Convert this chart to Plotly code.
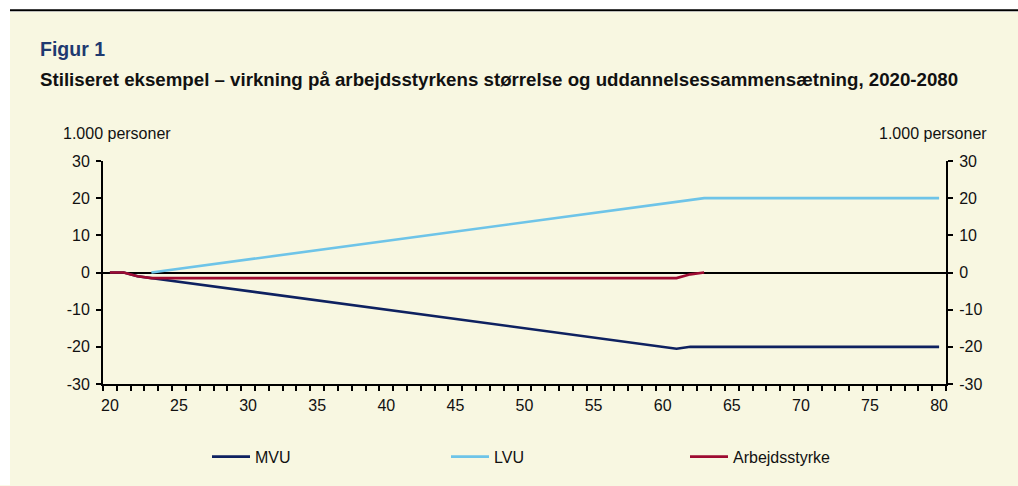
import plotly.graph_objects as go

# ---- data ----
years = list(range(20, 81))

mvu = [0, 0, -1, -1.5, -2, -2.5, -3, -3.5, -4, -4.5,
       -5, -5.5, -6, -6.5, -7, -7.5, -8, -8.5, -9, -9.5,
       -10, -10.5, -11, -11.5, -12, -12.5, -13, -13.5, -14, -14.5,
       -15, -15.5, -16, -16.5, -17, -17.5, -18, -18.5, -19, -19.5,
       -20, -20.5, -20, -20, -20, -20, -20, -20, -20, -20,
       -20, -20, -20, -20, -20, -20, -20, -20, -20, -20,
       -20]

lvu = [None, None, None, 0, 0.5, 1, 1.5, 2, 2.5, 3,
       3.5, 4, 4.5, 5, 5.5, 6, 6.5, 7, 7.5, 8,
       8.5, 9, 9.5, 10, 10.5, 11, 11.5, 12, 12.5, 13,
       13.5, 14, 14.5, 15, 15.5, 16, 16.5, 17, 17.5, 18,
       18.5, 19, 19.5, 20, 20, 20, 20, 20, 20, 20,
       20, 20, 20, 20, 20, 20, 20, 20, 20, 20,
       20]

arbejdsstyrke = [0, 0, -1, -1.5, -1.5, -1.5, -1.5, -1.5, -1.5, -1.5,
                 -1.5, -1.5, -1.5, -1.5, -1.5, -1.5, -1.5, -1.5, -1.5, -1.5,
                 -1.5, -1.5, -1.5, -1.5, -1.5, -1.5, -1.5, -1.5, -1.5, -1.5,
                 -1.5, -1.5, -1.5, -1.5, -1.5, -1.5, -1.5, -1.5, -1.5, -1.5,
                 -1.5, -1.5, -0.5, 0, None, None, None, None, None, None,
                 None, None, None, None, None, None, None, None, None, None,
                 None]

x_ticks = [20, 25, 30, 35, 40, 45, 50, 55, 60, 65, 70, 75, 80]
y_ticks = [-30, -20, -10, 0, 10, 20, 30]
y_ticktext = ["-30", "-20", "-10", "0", "10", "20", "30"]

title_txt = "Figur 1"
subtitle_txt = "Stiliseret eksempel – virkning på arbejdsstyrkens størrelse og uddannelsessammensætning, 2020-2080"
unit_txt = "1.000 personer"

# ---- layout geometry (pixels) ----
W, H = 1018, 486
L, R, T, B = 103, 946, 161, 388
BG = "#F8F7E1"
FONT = "Liberation Sans, Arial, sans-serif"


def px(x):
    return (x - L) / (R - L)


def py(y):
    return (B - y) / (B - T)


fig = go.Figure()
fig.add_trace(go.Scatter(x=years, y=mvu, name="MVU", mode="lines",
                         line=dict(color="#0E2160", width=2.6)))
fig.add_trace(go.Scatter(x=years, y=lvu, name="LVU", mode="lines",
                         line=dict(color="#6EC4E8", width=2.6)))
fig.add_trace(go.Scatter(x=years, y=arbejdsstyrke, name="Arbejdsstyrke", mode="lines",
                         line=dict(color="#9E0B31", width=2.6)))
# invisible trace to carry the right-hand axis
fig.add_trace(go.Scatter(x=years, y=mvu, yaxis="y2", mode="lines", opacity=0,
                         showlegend=False, hoverinfo="skip"))

axis_font = dict(family=FONT, size=16, color="#111111")

fig.update_layout(
    width=W, height=H,
    margin=dict(l=L, r=W - R, t=T, b=H - B, pad=0),
    paper_bgcolor=BG, plot_bgcolor=BG,
    font=dict(family=FONT, size=16, color="#111111"),
    showlegend=True,
    legend=dict(orientation="h", x=px(207), xanchor="left", y=py(462), yanchor="middle",
                bgcolor="rgba(0,0,0,0)", font=dict(family=FONT, size=16, color="#111111"),
                entrywidth=186, entrywidthmode="pixels", itemwidth=38, traceorder="normal"),
    xaxis=dict(range=[19.5, 80.5], tickmode="array", tickvals=x_ticks,
               ticks="", showgrid=False, zeroline=False,
               showline=True, linecolor="black", linewidth=2,
               tickfont=axis_font, ticklabelstandoff=6,
               minor=dict(tickmode="linear", tick0=19.5, dtick=1, ticks="outside",
                          ticklen=5, tickwidth=1.5, tickcolor="black", showgrid=False)),
    yaxis=dict(range=[-30, 30], tickmode="array", tickvals=y_ticks, ticktext=y_ticktext,
               ticks="outside", ticklen=5, tickwidth=1.5, tickcolor="black",
               showgrid=False, zeroline=True, zerolinecolor="black", zerolinewidth=1.5,
               showline=True, linecolor="black", linewidth=2, tickfont=axis_font,
               ticklabelstandoff=3),
    yaxis2=dict(range=[-30, 30], tickmode="array", tickvals=y_ticks, ticktext=y_ticktext,
                overlaying="y",
                side="right", ticks="outside", ticklen=5, tickwidth=1.5, tickcolor="black",
                showgrid=False, zeroline=False,
                showline=True, linecolor="black", linewidth=2, tickfont=axis_font,
                ticklabelstandoff=3),
)

shapes = [
    # white strip on the left and top
    dict(type="rect", xref="paper", yref="paper", x0=px(-5), x1=px(10), y0=py(H + 5), y1=py(-5),
         fillcolor="white", line=dict(width=0), layer="below"),
    dict(type="rect", xref="paper", yref="paper", x0=px(-5), x1=px(W + 5), y0=py(9), y1=py(-5),
         fillcolor="white", line=dict(width=0), layer="below"),
    # black rule at top
    dict(type="line", xref="paper", yref="paper", x0=px(10), x1=px(W + 5), y0=py(7.5), y1=py(7.5),
         line=dict(color="black", width=2)),
]
fig.update_layout(shapes=shapes)

annotations = [
    dict(text="<b>" + title_txt + "</b>", x=px(38), y=py(47), xref="paper", yref="paper",
         xanchor="left", yanchor="middle", showarrow=False,
         font=dict(family=FONT, size=19.5, color="#1F3A70")),
    dict(text="<b>" + subtitle_txt + "</b>", x=px(38), y=py(78), xref="paper", yref="paper",
         xanchor="left", yanchor="middle", showarrow=False,
         font=dict(family=FONT, size=18.7, color="#111111")),
    dict(text=unit_txt, x=px(61), y=py(133), xref="paper", yref="paper",
         xanchor="left", yanchor="middle", showarrow=False,
         font=dict(family=FONT, size=16, color="#111111")),
    dict(text=unit_txt, x=px(989), y=py(133), xref="paper", yref="paper",
         xanchor="right", yanchor="middle", showarrow=False,
         font=dict(family=FONT, size=16, color="#111111")),
]
fig.update_layout(annotations=annotations)

fig.write_html("out.html",
               config={"displayModeBar": False},
               post_script="document.body.style.margin='0';document.body.style.padding='0';"
                           "document.body.style.overflow='hidden';"
                           "document.documentElement.style.overflow='hidden';"
                           "document.body.style.background='" + BG + "';"
                           "document.documentElement.style.background='" + BG + "';")
